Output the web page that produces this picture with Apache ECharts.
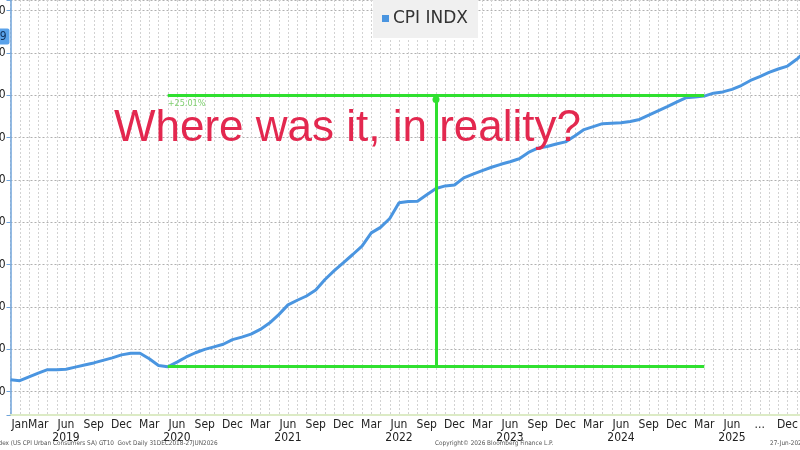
<!DOCTYPE html>
<html>
<head>
<meta charset="utf-8">
<script src="https://cdn.jsdelivr.net/npm/echarts@6/dist/echarts.min.js"></script>
<style>html,body{margin:0;padding:0;background:#fff}#c{width:800px;height:450px}</style>
</head>
<body>
<div id="c"></div>
<script>
// Monthly categories Dec 2018 .. Jun 2026
const startYear = 2018, startMonth = 12, monthCount = 91;
const categories = [];
for (let i = 0; i < monthCount; i++) {
  const t = (startYear * 12 + startMonth - 1) + i;
  const y = Math.floor(t / 12), m = t % 12 + 1;
  categories.push(y + '-' + (m < 10 ? '0' + m : m));
}
// CPI INDX values (Dec 2018 onward)
const cpiValues = [
  252.8, 252.6, 253.5, 254.4, 255.2, 255.2, 255.3, 255.8, 256.3, 256.8, 257.4, 258.0,
  258.7, 259.1, 259.1, 257.8, 256.2, 255.9, 257.0, 258.2, 259.2, 260.0, 260.6, 261.2,
  262.3, 262.9, 263.6, 264.7, 266.2, 268.2, 270.5, 271.6, 272.6, 274.0, 276.5, 278.6,
  280.5, 282.4, 284.4, 287.5, 288.8, 290.9, 294.6, 294.9, 295.0, 296.5, 298.0, 298.6,
  298.8, 300.5, 301.4, 302.2, 303.0, 303.7, 304.3, 305.0, 306.5, 307.5, 307.9, 308.5,
  309.0, 310.4, 311.9, 312.6, 313.3, 313.4, 313.5, 313.8, 314.3, 315.3, 316.3, 317.3,
  318.4, 319.4, 319.6, 319.8, 320.5, 320.8, 321.4, 322.3, 323.5, 324.4, 325.4, 326.2,
  326.9, 328.5, 330.5
];
const monthAbbr = ['Jan','Feb','Mar','Apr','May','Jun','Jul','Aug','Sep','Oct','Nov','Dec'];
const labelMonths = [3, 6, 9, 12];
const skippedLabel = '2025-09';
const yTicks = [250, 260, 270, 280, 290, 300, 310, 320, 330, 340];
// annotation values
const lowPoint = '2020-05', lowValue = 255.9;
const endPoint = '2025-03', highValue = 319.9;
const measurePoint = '2022-10', measureTop = 319.0;
const changeLabel = '+25.01%';
const lastValue = 333.9, lastValueText = '333.89';

const chart = echarts.init(document.getElementById('c'), null, {renderer: 'canvas'});
const font = 'DejaVu Sans Condensed';
chart.setOption({
  animation: false,
  backgroundColor: '#ffffff',
  title: [
    { text: 'Where was it, in reality?', left: 109, top: 102,
      textStyle: { color: '#e3284f', fontSize: 44, fontWeight: 'normal', fontFamily: 'Liberation Sans' } },
    { text: 'CPI INDX Index (US CPI Urban Consumers SA) GT10  Govt Daily 31DEC2018-27JUN2026', left: -34, top: 440,
      padding: 0, textStyle: { color: '#555', fontSize: 6.4, fontWeight: 'normal', fontFamily: font } },
    { text: 'Copyright\u00a9 2026 Bloomberg Finance L.P.', left: 435, top: 440,
      padding: 0, textStyle: { color: '#555', fontSize: 6.4, fontWeight: 'normal', fontFamily: font } },
    { text: '27-Jun-2026 10:14:33', left: 770, top: 440,
      padding: 0, textStyle: { color: '#555', fontSize: 6.4, fontWeight: 'normal', fontFamily: font } }
  ],
  legend: {
    left: 373, top: 0, padding: [10, 10, 11, 9],
    backgroundColor: '#f0f0f0',
    itemWidth: 7, itemHeight: 7, icon: 'rect', itemGap: 5,
    textStyle: { color: '#333', fontSize: 17, fontFamily: 'DejaVu Sans', padding: [0, 0, 0, -1] },
    data: [{ name: 'CPI INDX', itemStyle: { color: '#4a95e0' } }]
  },
  grid: { left: 10.5, right: -43, top: 0, bottom: 35, containLabel: false, outerBoundsMode: 'none' },
  xAxis: {
    type: 'category', data: categories, boundaryGap: false,
    axisLine: { show: true, lineStyle: { color: '#dcebc5', width: 2 } },
    axisTick: { show: false },
    axisLabel: {
      color: '#222', fontSize: 12, fontFamily: font, margin: 3, lineHeight: 13, hideOverlap: false,
      interval: function (idx, val) {
        const mo = +val.slice(5);
        return idx === 1 || (idx > 0 && labelMonths.indexOf(mo) >= 0);
      },
      formatter: function (val) {
        const mo = +val.slice(5);
        let s = val === skippedLabel ? '...' : monthAbbr[mo - 1];
        if (mo === 6) s += '\n' + val.slice(0, 4);
        return s;
      }
    },
    splitLine: { show: true, interval: 0, lineStyle: { color: '#d2d2d2', type: [2, 2], width: 1 } }
  },
  yAxis: {
    type: 'value', min: 244.5, max: 342.5, splitNumber: 10,
    axisLine: { show: true, lineStyle: { color: '#6fa3da', width: 1.5 } },
    axisTick: { show: true, length: 4, lineStyle: { color: '#6fa3da' } },
    axisLabel: {
      color: '#222', fontSize: 12, fontFamily: font, margin: 5,
      formatter: function (v) { return yTicks.indexOf(Math.round(v * 10) / 10) >= 0 ? String(v) : ''; }
    },
    splitLine: { show: true, lineStyle: { color: '#b0b0b0', type: [2, 2], width: 1 } }
  },
  series: [{
    name: 'CPI INDX', type: 'line', data: cpiValues, showSymbol: false, smooth: false,
    lineStyle: { color: '#4a95e0', width: 3 }, itemStyle: { color: '#4a95e0' },
    clip: false,
    markLine: {
      silent: true, symbol: 'none', animation: false,
      data: [
        [ { coord: [lowPoint, lowValue], lineStyle: { color: '#2fe02f', width: 3, type: 'solid' }, label: { show: false } },
          { coord: [endPoint, lowValue] } ],
        [ { coord: [lowPoint, highValue], lineStyle: { color: '#2fe02f', width: 3, type: 'solid' },
            label: { show: true, position: 'insideStartBottom', formatter: changeLabel, color: '#7fcf6f', fontSize: 9, fontFamily: font, distance: [0, 3] } },
          { coord: [endPoint, highValue] } ],
        [ { coord: [measurePoint, lowValue], symbol: 'none', lineStyle: { color: '#2fe02f', width: 3, type: 'solid' }, label: { show: false } },
          { coord: [measurePoint, measureTop], symbol: 'circle', symbolSize: 7, itemStyle: { color: '#2fe02f' } } ],
        { yAxis: lastValue, lineStyle: { color: 'rgba(0,0,0,0)', width: 0 },
          label: { show: true, position: 'start', formatter: lastValueText, distance: 1, opacity: 1,
                   backgroundColor: '#5aa2ea', color: '#10305a', fontSize: 12, fontFamily: font, padding: [2, 3], borderRadius: 2 } }
      ]
    }
  }]
});
</script>
</body>
</html>
